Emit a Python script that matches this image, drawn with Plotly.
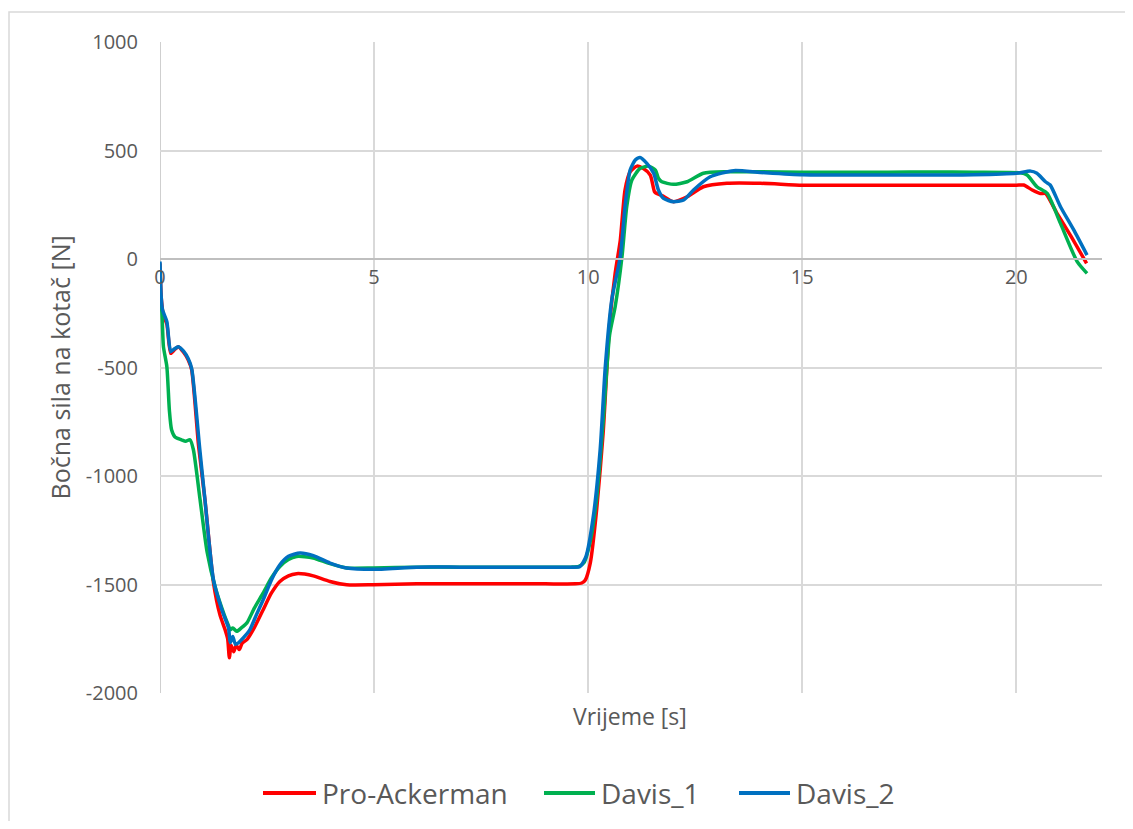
import plotly.graph_objects as go

# Pro-Ackerman
t_red = [0.0, 0.03, 0.08, 0.16, 0.25, 0.33, 0.43, 0.55, 0.66, 0.74, 0.9, 1.05, 1.25, 1.4, 1.52, 1.58,
         1.62, 1.66, 1.72, 1.78, 1.85, 1.92, 2.03, 2.2, 2.41, 2.6, 2.8, 3.0, 3.19, 3.38, 3.58, 3.97,
         4.36, 4.98, 6.0, 7.0, 8.0, 9.0, 9.7, 9.85, 9.93, 10.05, 10.2, 10.35, 10.5, 10.63, 10.75,
         10.86, 10.98, 11.14, 11.29, 11.45, 11.55, 11.6, 11.75, 11.99, 12.31, 12.69, 13.24, 14.02,
         15.0, 16.0, 17.0, 18.0, 19.0, 20.0, 20.17, 20.37, 20.56, 20.68, 20.95, 21.26, 21.64]
v_red = [-20, -180, -260, -300, -435, -420, -404, -430, -465, -511, -860, -1110, -1493, -1640, -1708, -1750,
         -1838, -1780, -1810, -1780, -1800, -1770, -1754, -1700, -1616, -1540, -1486, -1460, -1450, -1452, -1460, -1486,
         -1501, -1501, -1497, -1497, -1497, -1497, -1497, -1493, -1480, -1400, -1150, -800, -300, -66, 87,
         318, 402, 428, 417, 387, 310, 302, 290, 264, 287, 333, 349, 349,
         340, 340, 340, 340, 340, 340, 341, 318, 302, 302, 210, 110, -20]

# Davis_1
t_green = [0.0, 0.04, 0.08, 0.16, 0.22, 0.27, 0.35, 0.5, 0.6, 0.7, 0.78, 0.93, 1.1, 1.3, 1.5, 1.6,
           1.64, 1.7, 1.79, 1.9, 2.03, 2.2, 2.41, 2.6, 2.8, 3.0, 3.19, 3.38, 3.58, 3.97, 4.36, 4.98,
           6.0, 7.0, 8.0, 9.0, 9.6, 9.78, 9.9, 10.05, 10.2, 10.35, 10.5, 10.63, 10.79, 10.9, 11.02,
           11.21, 11.41, 11.57, 11.64, 11.72, 11.99, 12.31, 12.69, 13.24, 14.02, 15.0, 16.0, 17.0,
           18.0, 19.0, 20.09, 20.25, 20.48, 20.72, 21.03, 21.42, 21.65]
v_green = [-200, -235, -404, -496, -700, -787, -820, -833, -840, -833, -879, -1100, -1350, -1520, -1640, -1690,
           -1708, -1700, -1716, -1700, -1677, -1610, -1539, -1470, -1417, -1385, -1371, -1372, -1378, -1404, -1424, -1424,
           -1420, -1420, -1420, -1420, -1420, -1417, -1400, -1300, -1100, -750, -350, -220, 11, 241, 364,
           417, 428, 410, 372, 356, 344, 356, 395, 402, 402, 400, 400, 400,
           401, 400, 397, 387, 333, 302, 164, -12, -66]

# Davis_2
t_blue = [0.0, 0.03, 0.06, 0.16, 0.25, 0.33, 0.43, 0.55, 0.66, 0.74, 0.93, 1.05, 1.25, 1.45, 1.6,
          1.64, 1.7, 1.76, 1.83, 1.95, 2.1, 2.25, 2.41, 2.6, 2.8, 3.0, 3.27, 3.58, 3.97, 4.36, 4.98,
          6.0, 7.0, 8.0, 9.0, 9.6, 9.81, 9.95, 10.12, 10.28, 10.4, 10.55, 10.75, 10.86, 10.98, 11.1,
          11.21, 11.37, 11.53, 11.64, 11.76, 11.99, 12.23, 12.46, 12.85, 13.4, 14.02, 15.0, 16.0,
          17.0, 18.0, 18.46, 19.0, 20.0, 20.33, 20.48, 20.68, 20.79, 21.03, 21.34, 21.65]
v_blue = [-12, -180, -235, -289, -427, -415, -404, -425, -460, -505, -879, -1110, -1480, -1620, -1700,
          -1768, -1740, -1775, -1769, -1745, -1708, -1640, -1570, -1480, -1409, -1370, -1355, -1367, -1401, -1424, -1430,
          -1420, -1420, -1420, -1420, -1420, -1417, -1370, -1186, -879, -496, -189, 11, 241, 410, 456,
          468, 441, 395, 318, 279, 264, 272, 318, 379, 407, 399, 388, 387,
          387, 387, 387, 388, 395, 405, 395, 356, 341, 241, 134, 18]

x_ticks = [0, 5, 10, 15, 20]
y_ticks = [1000, 500, 0, -500, -1000, -1500, -2000]
y_ticktext = ["1000", "500", "0", "-500", "-1000", "-1500", "-2000"]

series = [
    ("Pro-Ackerman", t_red, v_red, "#FF0000"),
    ("Davis_1", t_green, v_green, "#00B050"),
    ("Davis_2", t_blue, v_blue, "#0070C0"),
]

txt = "#595959"
grid = "#D9D9D9"
PW, PH = 942, 651  # plot area in px


def px_x(p):
    # page x pixel -> paper fraction
    return (p - 160) / PW


fig = go.Figure()
for name, t, v, color in series:
    fig.add_trace(go.Scatter(
        x=t, y=v, mode="lines", name=name, showlegend=False,
        line=dict(color=color, width=3.5, shape="spline", smoothing=0.6),
    ))

# Excel-like legend: long key lines, drawn by hand
legend_key_x = [(263, 316), (544, 595), (739, 790)]
legend_y = (693 - 793) / PH
shapes = [
    dict(type="rect", xref="paper", yref="paper", x0=px_x(9), x1=1.2,
         y0=-0.3, y1=1 + 30 / PH, line=dict(color="#D9D9D9", width=1.5)),
    dict(type="line", xref="x", yref="paper", x0=0, x1=0, y0=0, y1=1,
         line=dict(color="#BFBFBF", width=1.5), layer="below"),
]
annotations = [
    dict(text="Vrijeme [s]", xref="paper", yref="paper", x=0.499, y=-0.036,
         xanchor="center", yanchor="middle", showarrow=False, font=dict(size=23, color=txt)),
    dict(text="Bočna sila na kotač [N]", xref="paper", yref="paper", x=px_x(59), y=0.5,
         xanchor="center", yanchor="middle", textangle=-90, showarrow=False,
         font=dict(size=25, color=txt)),
]
for (name, _, _, color), (x0, x1) in zip(series, legend_key_x):
    shapes.append(dict(type="line", xref="paper", yref="paper", x0=px_x(x0), x1=px_x(x1),
                       y0=legend_y, y1=legend_y, line=dict(color=color, width=4)))
    annotations.append(dict(text=name, xref="paper", yref="paper", x=px_x(x1 + 4), y=legend_y,
                            xanchor="left", yanchor="middle", showarrow=False,
                            font=dict(size=28, color=txt)))

# page body has an 8px margin, so the figure is drawn 8px smaller and margins shifted
fig.update_layout(
    width=1117, height=813,
    margin=dict(l=152, r=23, t=34, b=128),
    paper_bgcolor="white", plot_bgcolor="white",
    font=dict(family="Open Sans", size=20, color=txt),
    xaxis=dict(range=[0, 22], tickvals=x_ticks, showgrid=True, gridcolor=grid,
               gridwidth=1.5, zeroline=False, showline=True, linecolor="#BFBFBF", linewidth=1.5,
               anchor="free", position=2 / 3, ticks="", tickfont=dict(size=20, color=txt)),
    yaxis=dict(range=[-2000, 1000], tickvals=y_ticks, ticktext=y_ticktext, showgrid=True,
               gridcolor=grid, gridwidth=1.5, zeroline=False, showline=False, ticks="",
               ticklabelstandoff=21, tickfont=dict(size=20, color=txt), domain=[0, 1]),
    annotations=annotations,
    shapes=shapes,
)

fig.write_html("out.html")
